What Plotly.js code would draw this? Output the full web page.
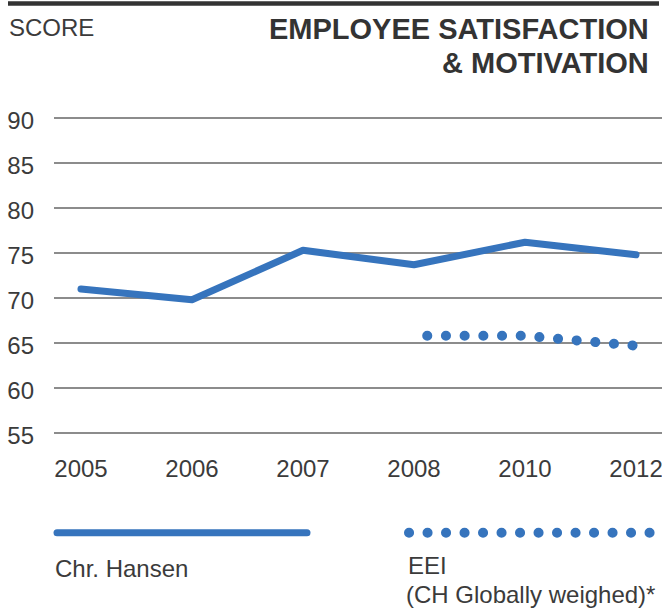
<!DOCTYPE html>
<html>
<head>
<meta charset="utf-8">
<script src="https://cdn.plot.ly/plotly-3.0.1.min.js"></script>
<style>
  html, body { margin: 0; padding: 0; background: #fff; }
  #chart { width: 662px; height: 610px; }
  .scatterlayer .js-line { stroke-linecap: round; stroke-linejoin: round; }
  .scatterlayer .trace:nth-of-type(2) .js-line { stroke-dashoffset: 5.5px; }
  .shapelayer path { stroke-linecap: round; }
</style>
</head>
<body>
<div id="chart"></div>
<script>
// ---- data ----
var years = ['2005', '2006', '2007', '2008', '2010', '2012'];
var chrHansen = [71.0, 69.8, 75.3, 73.7, 76.2, 74.8];
var eeiYears = ['2008', '2010', '2012'];
var eei = [65.8, 65.8, 64.7];
var yTicks = [55, 60, 65, 70, 75, 80, 85, 90];
var seriesNames = ['Chr. Hansen', 'EEI', '(CH Globally weighed)*'];
var unitLabel = 'SCORE';
var titleLines = ['EMPLOYEE SATISFACTION', '&amp; MOTIVATION'];

// ---- layout geometry ----
var W = 662, H = 610;
var mL = 54, mR = 0, mT = 109, mB = 167.5;
var plotW = W - mL - mR, plotH = H - mT - mB;
function px(x) { return (x - mL) / plotW; }
function py(y) { return (H - mB - y) / plotH; }

var blue = '#3674bd';
var textCol = '#3b3b3b';
var font = 'Liberation Sans, Arial, Helvetica, sans-serif';

var traces = [
  { x: years, y: chrHansen, type: 'scatter', mode: 'lines', name: seriesNames[0],
    line: { color: blue, width: 7 }, hoverinfo: 'x+y' },
  { x: eeiYears, y: eei, type: 'scatter', mode: 'lines', name: seriesNames[1],
    line: { color: blue, width: 10, dash: '0.1px,18.6px' }, hoverinfo: 'x+y' }
];

var layout = {
  width: W, height: H,
  margin: { l: mL, r: mR, t: mT, b: mB, pad: 0 },
  paper_bgcolor: '#fff', plot_bgcolor: '#fff',
  showlegend: false,
  font: { family: font, color: textCol, size: 24 },
  xaxis: {
    type: 'category', range: [-0.243, 5.234],
    showgrid: false, zeroline: false, showline: false, ticks: '',
    tickfont: { size: 24, color: textCol, family: font },
    ticklabelstandoff: 10, fixedrange: true
  },
  yaxis: {
    range: [54, 91], tickvals: yTicks, ticktext: yTicks.map(String),
    showgrid: true, gridcolor: '#8c8c8c', gridwidth: 1.6,
    zeroline: false, showline: false, ticks: '',
    tickfont: { size: 24, color: textCol, family: font },
    ticklabelstandoff: 19, ticklabelshift: 3, fixedrange: true
  },
  shapes: [
    { type: 'rect', xref: 'paper', yref: 'paper',
      x0: px(8), x1: px(659), y0: py(1), y1: py(5.5),
      fillcolor: '#333333', line: { width: 0 } },
    { type: 'line', xref: 'paper', yref: 'paper',
      x0: px(57), x1: px(307), y0: py(533.3), y1: py(533.3),
      line: { color: blue, width: 7 } },
    { type: 'line', xref: 'paper', yref: 'paper',
      x0: px(409), x1: px(670), y0: py(533.3), y1: py(533.3),
      line: { color: blue, width: 10, dash: '0.1px,18.4px' } }
  ],
  annotations: [
    { text: unitLabel, xref: 'paper', yref: 'paper', x: px(7), y: py(27.7),
      xanchor: 'left', yanchor: 'middle', showarrow: false,
      font: { size: 24, color: textCol, family: font } },
    { text: '<b>' + titleLines[0] + '</b>', xref: 'paper', yref: 'paper', x: px(651), y: py(29),
      xanchor: 'right', yanchor: 'middle', showarrow: false,
      font: { size: 29, color: '#333333', family: font } },
    { text: '<b>' + titleLines[1] + '</b>', xref: 'paper', yref: 'paper', x: px(651), y: py(62.5),
      xanchor: 'right', yanchor: 'middle', showarrow: false,
      font: { size: 29, color: '#333333', family: font } },
    { text: seriesNames[0], xref: 'paper', yref: 'paper', x: px(53), y: py(569),
      xanchor: 'left', yanchor: 'middle', showarrow: false,
      font: { size: 24, color: textCol, family: font } },
    { text: seriesNames[1], xref: 'paper', yref: 'paper', x: px(406), y: py(566.5),
      xanchor: 'left', yanchor: 'middle', showarrow: false,
      font: { size: 24, color: textCol, family: font } },
    { text: seriesNames[2], xref: 'paper', yref: 'paper', x: px(404), y: py(595),
      xanchor: 'left', yanchor: 'middle', showarrow: false,
      font: { size: 24, color: textCol, family: font } }
  ]
};

Plotly.newPlot('chart', traces, layout, { displayModeBar: false, staticPlot: true });
</script>
</body>
</html>
